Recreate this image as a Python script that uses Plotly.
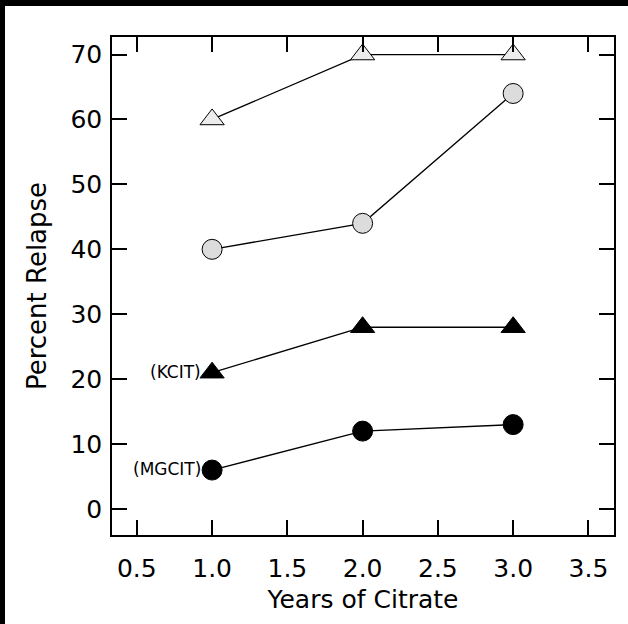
import plotly.graph_objects as go

years = [1.0, 2.0, 3.0]
open_tri = [60, 70, 70]
gray_circ = [40, 44, 64]
kcit = [21, 28, 28]
mgcit = [6, 12, 13]
x_ticks = [0.5, 1.0, 1.5, 2.0, 2.5, 3.0, 3.5]
y_ticks = [0, 10, 20, 30, 40, 50, 60, 70]

W, H = 628, 624
ML, MR, MT, MB = 112, 14, 37, 89
pw, ph = W - ML - MR, H - MT - MB
FONT = "DejaVu Sans"

fig = go.Figure()
line = dict(color="black", width=1.3)
fig.add_trace(go.Scatter(x=years, y=open_tri, mode="lines+markers", line=line,
                         marker=dict(symbol="triangle-up", size=21, color="#ececec",
                                     line=dict(color="black", width=1))))
fig.add_trace(go.Scatter(x=years, y=gray_circ, mode="lines+markers", line=line,
                         marker=dict(symbol="circle", size=20, color="#dcdcdc",
                                     line=dict(color="black", width=1))))
fig.add_trace(go.Scatter(x=years, y=kcit, mode="lines+markers", line=line,
                         marker=dict(symbol="triangle-up", size=21, color="black",
                                     line=dict(color="black", width=1))))
fig.add_trace(go.Scatter(x=years, y=mgcit, mode="lines+markers", line=line,
                         marker=dict(symbol="circle", size=20, color="black",
                                     line=dict(color="black", width=1))))

for label, yv in [("(KCIT)", kcit[0]), ("(MGCIT)", mgcit[0])]:
    fig.add_annotation(x=years[0], y=yv, text=label, showarrow=False, xanchor="right",
                       xshift=-9, yshift=1, font=dict(size=17, color="black", family=FONT))

# black frame on top and left edges of the image
fig.add_shape(type="rect", xref="paper", yref="paper",
              x0=-ML / pw, x1=(5 - ML) / pw, y0=-MB / ph, y1=1 + MT / ph,
              fillcolor="black", line=dict(width=0), layer="above")
fig.add_shape(type="rect", xref="paper", yref="paper",
              x0=-ML / pw, x1=1 + MR / pw, y0=1 + (MT - 6) / ph, y1=1 + MT / ph,
              fillcolor="black", line=dict(width=0), layer="above")

axis_common = dict(showgrid=False, zeroline=False, showline=True, linecolor="black",
                   linewidth=1.5, mirror="ticks", ticks="inside", ticklen=15,
                   tickwidth=1.5, tickcolor="black",
                   tickfont=dict(size=25, color="black", family=FONT))
fig.update_xaxes(range=[0.335, 3.67], tickvals=x_ticks, ticktext=[f"{v:.1f}" for v in x_ticks],
                 title=dict(text="Years of Citrate", standoff=9,
                            font=dict(size=25, color="black", family=FONT)),
                 ticklabelstandoff=10, **axis_common)
fig.update_yaxes(range=[-4, 72.7], tickvals=y_ticks,
                 title=dict(text="Percent Relapse", standoff=16,
                            font=dict(size=26, color="black", family=FONT)),
                 ticklabelstandoff=3, **axis_common)

fig.update_layout(width=W, height=H, margin=dict(l=ML, r=MR, t=MT, b=MB),
                  plot_bgcolor="white", paper_bgcolor="white", showlegend=False)
fig.write_html("out.html")
